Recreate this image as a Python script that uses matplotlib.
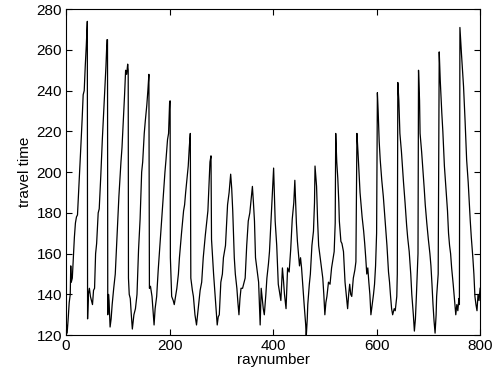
import matplotlib
matplotlib.use('Agg')
import matplotlib.pyplot as plt

plt.rcParams['font.family'] = ['Liberation Sans', 'DejaVu Sans']

# (raynumber, travel time), three stretches
left_part = [(0, 127), (2, 121), (4, 128), (6, 136), (8, 140), (9, 154), (10, 146), (12, 148),
             (14, 158), (16, 168), (18, 175), (20, 178), (22, 179), (25, 195), (28, 210),
             (30, 220), (31, 226), (33, 238), (35, 240), (37, 252), (39, 262), (41, 274),
             (41.5, 128), (43, 140), (45, 143), (47, 139), (49, 137), (51, 135), (53, 142),
             (55, 143), (57, 160), (59, 165), (62, 180), (64, 182), (67, 198), (70, 216),
             (72, 226), (73, 232), (75, 240), (77, 252), (79, 265), (80, 265), (80.5, 130),
             (82, 140), (83, 137), (85, 124), (87, 128), (89, 135), (92, 143), (95, 150),
             (99, 172), (102, 188), (106, 205), (108, 212), (110, 222), (111, 228), (113, 238),
             (115, 250), (117, 248), (119, 253), (120, 250), (120.5, 148), (122, 140),
             (124, 138), (126, 130), (128, 123), (131, 130), (134, 133), (137, 140), (140, 162),
             (143, 177), (146, 200), (148, 205), (151, 219), (153, 225), (156, 233), (158, 240),
             (160, 248), (161, 143), (163, 144), (166, 139), (168, 132), (170, 125), (172, 133),
             (175, 139), (178, 152), (182, 167), (185, 178), (188, 190), (191, 200), (193, 206),
             (196, 216), (198, 219), (200, 234), (201, 235), (201.5, 158), (204, 139),
             (207, 137), (209, 135), (212, 140), (214, 143), (217, 150), (219, 158), (223, 170),
             (227, 181), (229, 184), (231, 190), (234, 198), (236, 203), (238, 212), (240, 219),
             (241, 148), (244, 142), (246, 139), (249, 130), (252, 125), (254, 130), (256, 135),
             (259, 142), (262, 146), (265, 158), (269, 169), (272, 176), (274, 181), (276, 193),
             (278, 205), (280, 208)]

middle_part = [(281, 167), (285, 150), (288, 139), (290, 131), (292, 125), (294, 129), (296, 130),
               (299, 146), (302, 150), (304, 158), (308, 164), (310, 174), (312, 184), (315, 190),
               (317, 196), (318, 199), (320, 192), (322, 181), (325, 158), (327, 150), (330, 143),
               (332, 136), (334, 130), (336, 138), (338, 143), (341, 143), (343, 145), (346, 148),
               (349, 164), (352, 176), (355, 180), (357, 185), (360, 193), (362, 185), (364, 176),
               (366, 158), (369, 152), (372, 146), (374, 132), (375, 125), (377, 143), (379, 138),
               (381, 133), (383, 130), (386, 140), (388, 148), (391, 155), (393, 161), (396, 176),
               (398, 185), (401, 202), (404, 176), (407, 164), (410, 145), (413, 140), (415, 137),
               (418, 153), (420, 147), (422, 140), (425, 133), (428, 153), (431, 151), (434, 162),
               (437, 177), (440, 185), (442, 196), (445, 175), (447, 166), (451, 154), (453, 158),
               (455, 153), (458, 142), (460, 135), (463, 125), (464, 119), (466, 128), (467, 135),
               (470, 145), (472, 150), (475, 164), (478, 171), (480, 185), (481, 203), (484, 193),
               (486, 176), (488, 164), (491, 158), (493, 154), (496, 148), (498, 140), (500, 130),
               (502, 136), (504, 139), (507, 146), (510, 145), (513, 153), (516, 158), (518, 161),
               (520, 175), (521, 219), (523, 205), (525, 197), (527, 185), (528, 176), (531, 166),
               (533, 165), (536, 161), (539, 146), (542, 138), (544, 133), (546, 140), (548, 145),
               (550, 140), (552, 139), (555, 148), (558, 152), (560, 156)]

right_part = [(562, 219), (564, 210), (566, 200), (568, 190), (570, 184), (572, 178), (575, 171),
              (577, 165), (579, 158), (581, 150), (583, 153), (585, 146), (587, 140), (589, 130),
              (592, 136), (594, 140), (596, 145), (598, 154), (600, 170), (601.5, 239), (603, 230),
              (605, 215), (607, 206), (610, 196), (613, 188), (616, 178), (620, 164), (623, 151),
              (625, 146), (627, 139), (629, 133), (631, 130), (634, 133), (636, 132), (639, 139),
              (640, 150), (641, 244), (643, 235), (645, 219), (648, 210), (652, 195), (655, 185),
              (658, 174), (660, 168), (663, 161), (666, 150), (668, 140), (671, 130), (673, 122),
              (675, 128), (677, 140), (680, 160), (681, 250), (683, 235), (684, 219), (687, 210),
              (689, 203), (692, 192), (694, 184), (697, 175), (700, 167), (703, 160), (705, 154),
              (707, 145), (709, 135), (711, 127), (713, 121), (715, 130), (716, 139), (719, 150),
              (720, 200), (721, 259), (723, 245), (726, 229), (728, 220), (731, 203), (734, 192),
              (737, 181), (739, 170), (741, 164), (743, 160), (745, 153), (748, 145), (750, 139),
              (752, 133), (753, 130), (755, 135), (757, 132), (759, 138), (760, 135), (761, 271),
              (764, 258), (768, 242), (771, 225), (774, 206), (777, 195), (781, 176), (783, 168),
              (786, 158), (788, 150), (790, 139), (792, 135), (794, 132), (796, 140), (798, 137),
              (800, 143)]

punkty = left_part + middle_part + right_part
raynumber = [p[0] for p in punkty]
travel_time = [p[1] for p in punkty]

x_ticks = [0, 200, 400, 600, 800]
y_ticks = [120, 140, 160, 180, 200, 220, 240, 260, 280]

fig = plt.figure(figsize=(4.97, 3.8), dpi=100)
ax = fig.add_axes([0.133, 0.118, 0.833, 0.858])
ax.plot(raynumber, travel_time, color='black', linewidth=0.9)

ax.set_xlim(0, 800)
ax.set_ylim(120, 280)
ax.set_xticks(x_ticks)
ax.set_yticks(y_ticks)
ax.tick_params(direction='in', top=True, right=True, length=4, labelsize=11, pad=3)
ax.set_xlabel('raynumber', fontsize=11, labelpad=0)
ax.set_ylabel('travel time', fontsize=11, labelpad=3)

fig.savefig('out.png', dpi=100)
